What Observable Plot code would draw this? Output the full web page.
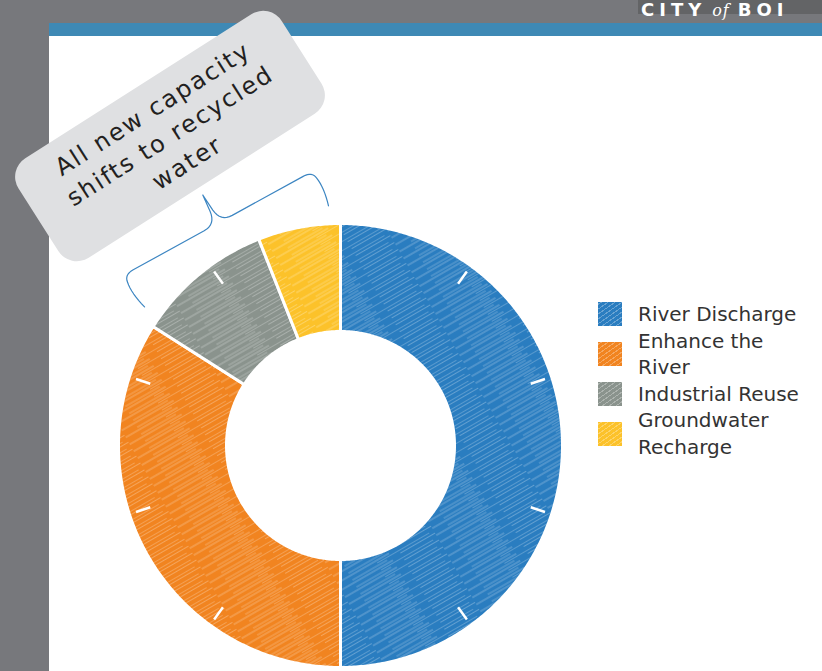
<!DOCTYPE html>
<html><head><meta charset="utf-8">
<script src="https://cdn.jsdelivr.net/npm/d3@7"></script>
<script src="https://cdn.jsdelivr.net/npm/@observablehq/plot@0.6"></script>
<style>
html,body{margin:0;padding:0;}
body{width:822px;height:671px;overflow:hidden;position:relative;background:#77787c;font-family:"DejaVu Sans",sans-serif;}
#hdr{position:absolute;left:0;top:0;}
#band{position:absolute;left:49px;top:23px;right:0;height:13px;background:#3e89b5;}
#page{position:absolute;left:49px;top:36px;right:0;bottom:0;background:#fff;}
#chart{position:absolute;left:0;top:0;}
#callout{position:absolute;width:312px;height:118px;left:14px;top:77px;transform:rotate(-32.5deg);background:#dfe0e2;border-radius:22px;display:flex;flex-direction:column;align-items:center;justify-content:center;color:#231f20;font-size:24px;line-height:32px;letter-spacing:1.9px;}
#legend{position:absolute;left:598px;top:301px;color:#333;font-size:20px;line-height:26.5px;}
.item{display:flex;align-items:center;}
.sw{width:24px;height:24px;margin-right:16px;flex:none;}
</style></head>
<body>
<svg id="hdr" width="822" height="22">
  <rect x="638" y="0" width="184" height="14" fill="#636466"></rect>
  <text x="641" y="16" fill="#fff" font-family="DejaVu Sans" font-size="18" letter-spacing="5"><tspan font-weight="bold">CITY</tspan><tspan dx="6" font-family="DejaVu Serif" font-style="italic" font-size="16" font-weight="normal" letter-spacing="1">of</tspan><tspan dx="8" font-weight="bold">BOI</tspan></text>
</svg>
<div id="band"></div>
<div id="page"></div>
<div id="chart"></div>
<div id="callout"></div>
<div id="legend"></div>
<script>
// ---- data ----
const categories = ["River Discharge", "Enhance the River", "Industrial Reuse", "Groundwater Recharge"];
const shares = [50, 34, 10, 6];
const colors = ["#2a7dc0", "#f18420", "#8a938d", "#fcc22a"];
const tickPercents = [10, 20, 30, 40, 50, 60, 70, 80, 90];
const calloutLines = ["All new capacity", "shifts to recycled", "water"];
const bracketed = ["Industrial Reuse", "Groundwater Recharge"];

// ---- geometry ----
const W = 822, H = 671, CX = 340, CY = 445;
const R = 222, R0 = 114;
const total = d3.sum(shares);
let acc = 0;
const slices = categories.map((c, i) => {
  const a0 = acc / total * 2 * Math.PI; acc += shares[i];
  const a1 = acc / total * 2 * Math.PI;
  return {c, a0, a1};
});
const pol = (r, a) => ({x: r * Math.sin(a), y: -r * Math.cos(a)});
const arcPts = [];
for (const s of slices) {
  const n = Math.max(4, Math.ceil((s.a1 - s.a0) / 0.01));
  for (let k = 0; k <= n; k++) arcPts.push({cat: s.c, ...pol(R, s.a0 + (s.a1 - s.a0) * k / n)});
  for (let k = n; k >= 0; k--) arcPts.push({cat: s.c, ...pol(R0, s.a0 + (s.a1 - s.a0) * k / n)});
}
const ticks = tickPercents.map(p => {
  const a = p / 100 * 2 * Math.PI;
  const p1 = pol(200, a), p2 = pol(215, a);
  return {x1: p1.x, y1: p1.y, x2: p2.x, y2: p2.y};
});

// brace over bracketed slices
const bs = slices.filter(s => bracketed.includes(s.c));
const t1 = d3.min(bs, s => s.a0), t2 = d3.max(bs, s => s.a1);
const tm = (t1 + t2) / 2, half = (t2 - t1) / 2 - 0.05;
const m = {x: Math.sin(tm), y: -Math.cos(tm)}, tv = {x: Math.cos(tm), y: Math.sin(tm)};
const w = 240 * Math.sin(half), dE = 240 * Math.cos(half), dL = dE + 38, dT = dE + 70;
function quad(p0, c, p1, n) {
  const out = [];
  for (let k = 0; k <= n; k++) {
    const u = k / n;
    out.push([(1-u)*(1-u)*p0[0] + 2*(1-u)*u*c[0] + u*u*p1[0], (1-u)*(1-u)*p0[1] + 2*(1-u)*u*c[1] + u*u*p1[1]]);
  }
  return out;
}
const leftHalf = [
  ...quad([-w, dE], [-w - 5, dE + 18], [-w - 3, dL - 8], 8),
  ...quad([-w - 3, dL - 8], [-w - 2, dL], [-w + 8, dL], 8),
  [-16, dL],
  ...quad([-16, dL], [-3, dL], [-1.5, dL + 14], 8),
  [0, dT]
];
const rightHalf = leftHalf.slice().reverse().map(([t, d]) => [-t, d]);
const bracePts = [...leftHalf, ...rightHalf.slice(1)].map(([t, d]) => ({x: t * tv.x + d * m.x, y: t * tv.y + d * m.y}));

const plot = Plot.plot({
  width: W, height: H, margin: 0,
  style: {background: "transparent"},
  x: {domain: [-CX, W - CX], range: [0, W], axis: null},
  y: {domain: [-CY, H - CY], range: [0, H], axis: null},
  color: {domain: categories, range: colors},
  marks: [
    Plot.line(arcPts, {x: "x", y: "y", z: "cat", fill: "cat", stroke: "white", strokeWidth: 3, curve: "linear-closed"}),
    Plot.line(arcPts, {x: "x", y: "y", z: "cat", fill: "url(#hatch)", stroke: "none", curve: "linear-closed"}),
    Plot.link(ticks, {x1: "x1", y1: "y1", x2: "x2", y2: "y2", stroke: "white", strokeWidth: 2.5}),
    Plot.line(bracePts, {x: "x", y: "y", stroke: "#3d86c2", strokeWidth: 1.2, curve: "linear"})
  ]
});
const defs = d3.select(plot).insert("defs", ":first-child");
const pat = defs.append("pattern").attr("id", "hatch").attr("patternUnits", "userSpaceOnUse")
  .attr("width", 110).attr("height", 8).attr("patternTransform", "rotate(-30)");
[[0, 1, 60, 0.38], [45, 3.5, 105, 0.25], [15, 6, 55, 0.32], [70, 6.5, 110, 0.3]].forEach(([a, y, b, o]) =>
  pat.append("line").attr("x1", a).attr("x2", b).attr("y1", y).attr("y2", y)
    .attr("stroke", "white").attr("stroke-opacity", o).attr("stroke-width", 0.9));
document.getElementById("chart").appendChild(plot);

// callout
const co = d3.select("#callout");
calloutLines.forEach(l => co.append("div").text(l));

// legend
const lg = d3.select("#legend");
const meas = lg.append("span").style("white-space", "nowrap").text("Industrial Reuse");
const maxW = meas.node().getBoundingClientRect().width + 2;
meas.remove();
categories.forEach((c, i) => {
  const it = lg.append("div").attr("class", "item");
  it.append("div").attr("class", "sw")
    .style("background", `repeating-linear-gradient(-35deg, ${colors[i]} 0 3px, rgba(255,255,255,0.3) 3px 4px), ${colors[i]}`);
  it.append("div").style("width", maxW + "px").text(c);
});
</script>
</body></html>
